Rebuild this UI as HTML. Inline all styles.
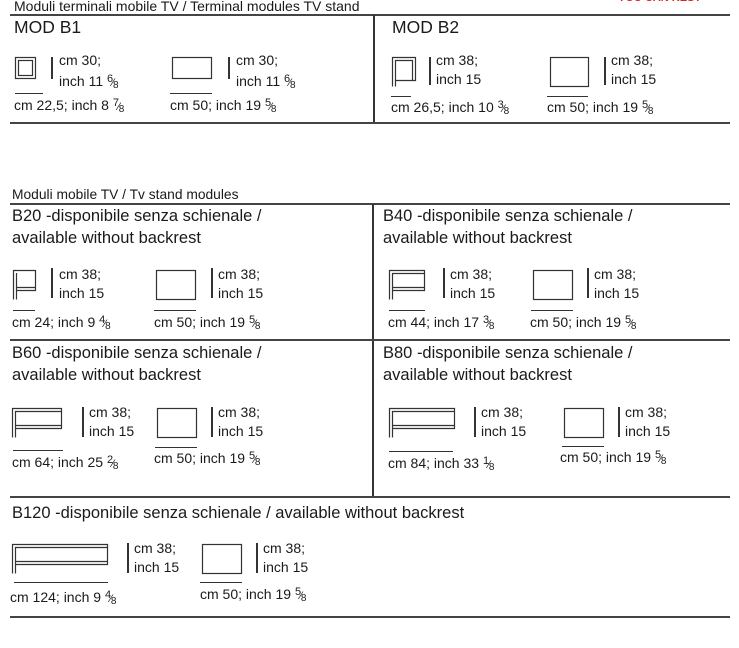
<!DOCTYPE html>
<html><head><meta charset="utf-8"><style>
body{margin:0;width:739px;height:648px;background:#fff;position:relative;overflow:hidden;font-family:"Liberation Sans",sans-serif;color:#1a1a1a}
.a{position:absolute;white-space:nowrap}
.h{position:absolute;height:2px;background:#444}
.v{position:absolute;width:1.5px;background:#333}
.t{position:absolute;font-size:14px;line-height:19px;white-space:nowrap}
.hd{position:absolute;font-size:16.5px;line-height:22px;white-space:nowrap}
.f{font-size:11px;letter-spacing:-1px}
.f sup{font-size:11px;vertical-align:4px}
.f sub{font-size:10px;vertical-align:-2px}
.ol{position:absolute;height:1px;background:#333}
svg{position:absolute;overflow:visible}
svg rect,svg line,svg path{fill:none;stroke:#333;stroke-width:1.2}
</style></head><body>
<div class="a" style="left:618px;top:-8px;color:#d22;font-size:11px;font-weight:bold">YOU CAN REST</div>
<div class="a" style="left:14px;top:-2px;font-size:14px">Moduli terminali mobile TV / Terminal modules TV stand</div>
<div class="h" style="left:10px;top:14px;width:720px"></div>
<div class="v" style="left:373px;top:15px;height:108px"></div>
<div class="h" style="left:10px;top:122px;width:720px"></div>

<div class="hd" style="left:14px;top:16px;font-size:17.5px">MOD B1</div>
<svg style="left:15px;top:57px" width="21" height="22"><rect x="0.5" y="0.5" width="20" height="21"/><rect x="3.5" y="3.5" width="14" height="15"/></svg>
<div class="v" style="left:51px;top:57px;height:22px"></div>
<div class="t" style="left:59px;top:51px">cm 30;<br>inch 11 <span class="f"><sup>6</sup>⁄<sub>8</sub></span></div>
<div class="ol" style="left:15px;top:93px;width:28px"></div>
<div class="t" style="left:14px;top:94px">cm 22,5; inch 8 <span class="f"><sup>7</sup>⁄<sub>8</sub></span></div>
<svg style="left:172px;top:57px" width="40" height="22"><rect x="0.5" y="0.5" width="39" height="21"/></svg>
<div class="v" style="left:228px;top:57px;height:22px"></div>
<div class="t" style="left:236px;top:51px">cm 30;<br>inch 11 <span class="f"><sup>6</sup>⁄<sub>8</sub></span></div>
<div class="ol" style="left:170px;top:93px;width:42px"></div>
<div class="t" style="left:170px;top:94px">cm 50; inch 19 <span class="f"><sup>5</sup>⁄<sub>8</sub></span></div>

<div class="hd" style="left:392px;top:16px;font-size:17.5px">MOD B2</div>
<svg style="left:392px;top:57px" width="24" height="30"><path d="M0.5 29.5V0.5H23.5V23.5H3.5V29.5"/><path d="M3.5 23.5V3.5H20.5V23.5"/></svg>
<div class="v" style="left:429px;top:57px;height:28px"></div>
<div class="t" style="left:436px;top:51px">cm 38;<br>inch 15</div>
<div class="ol" style="left:391px;top:96px;width:20px"></div>
<div class="t" style="left:391px;top:96px">cm 26,5; inch 10 <span class="f"><sup>3</sup>⁄<sub>8</sub></span></div>
<svg style="left:550px;top:57px" width="39" height="30"><rect x="0.5" y="0.5" width="38" height="29"/></svg>
<div class="v" style="left:604px;top:57px;height:28px"></div>
<div class="t" style="left:611px;top:51px">cm 38;<br>inch 15</div>
<div class="ol" style="left:547px;top:96px;width:41px"></div>
<div class="t" style="left:547px;top:96px">cm 50; inch 19 <span class="f"><sup>5</sup>⁄<sub>8</sub></span></div>

<div class="a" style="left:12px;top:187px;font-size:13.8px">Moduli mobile TV / Tv stand modules</div>
<div class="h" style="left:10px;top:203px;width:720px"></div>
<div class="v" style="left:372px;top:204px;height:293px"></div>
<div class="h" style="left:10px;top:339px;width:720px"></div>
<div class="h" style="left:10px;top:496px;width:720px"></div>
<div class="h" style="left:10px;top:616px;width:720px"></div>

<div class="hd" style="left:12px;top:205px">B20 -disponibile senza schienale /<br>available without backrest</div>
<svg style="left:13px;top:270px" width="23" height="30"><path d="M0.5 29.5V0.5H22.5V20.5H3.5V29.5"/><line x1="3.5" y1="3" x2="3.5" y2="20"/><line x1="3" y1="17.5" x2="22" y2="17.5"/></svg>
<div class="v" style="left:51px;top:268px;height:30px"></div>
<div class="t" style="left:59px;top:265px">cm 38;<br>inch 15</div>
<div class="ol" style="left:13px;top:310px;width:22px"></div>
<div class="t" style="left:12px;top:311px">cm 24; inch 9 <span class="f"><sup>4</sup>⁄<sub>8</sub></span></div>
<svg style="left:156px;top:270px" width="40" height="30"><rect x="0.5" y="0.5" width="39" height="29"/></svg>
<div class="v" style="left:211px;top:268px;height:30px"></div>
<div class="t" style="left:218px;top:265px">cm 38;<br>inch 15</div>
<div class="ol" style="left:154px;top:310px;width:42px"></div>
<div class="t" style="left:154px;top:311px">cm 50; inch 19 <span class="f"><sup>5</sup>⁄<sub>8</sub></span></div>

<div class="hd" style="left:383px;top:205px">B40 -disponibile senza schienale /<br>available without backrest</div>
<svg style="left:389px;top:270px" width="36" height="30"><path d="M0.5 29.5V0.5H35.5V20.5H3.5V29.5"/><line x1="3.5" y1="3" x2="3.5" y2="20"/><line x1="3" y1="17.5" x2="35" y2="17.5"/><line x1="3" y1="3.5" x2="35" y2="3.5"/></svg>
<div class="v" style="left:443px;top:268px;height:30px"></div>
<div class="t" style="left:450px;top:265px">cm 38;<br>inch 15</div>
<div class="ol" style="left:389px;top:310px;width:36px"></div>
<div class="t" style="left:388px;top:311px">cm 44; inch 17 <span class="f"><sup>3</sup>⁄<sub>8</sub></span></div>
<svg style="left:533px;top:270px" width="40" height="30"><rect x="0.5" y="0.5" width="39" height="29"/></svg>
<div class="v" style="left:587px;top:268px;height:30px"></div>
<div class="t" style="left:594px;top:265px">cm 38;<br>inch 15</div>
<div class="ol" style="left:531px;top:310px;width:42px"></div>
<div class="t" style="left:530px;top:311px">cm 50; inch 19 <span class="f"><sup>5</sup>⁄<sub>8</sub></span></div>

<div class="hd" style="left:12px;top:342px">B60 -disponibile senza schienale /<br>available without backrest</div>
<svg style="left:12px;top:408px" width="50" height="30"><path d="M0.5 29.5V0.5H49.5V20.5H3.5V29.5"/><line x1="3.5" y1="3" x2="3.5" y2="20"/><line x1="3" y1="17.5" x2="49" y2="17.5"/><line x1="3" y1="3.5" x2="49" y2="3.5"/></svg>
<div class="v" style="left:82px;top:407px;height:30px"></div>
<div class="t" style="left:89px;top:403px">cm 38;<br>inch 15</div>
<div class="ol" style="left:13px;top:450px;width:50px"></div>
<div class="t" style="left:12px;top:451px">cm 64; inch 25 <span class="f"><sup>2</sup>⁄<sub>8</sub></span></div>
<svg style="left:157px;top:408px" width="40" height="30"><rect x="0.5" y="0.5" width="39" height="29"/></svg>
<div class="v" style="left:211px;top:407px;height:30px"></div>
<div class="t" style="left:218px;top:403px">cm 38;<br>inch 15</div>
<div class="ol" style="left:155px;top:447px;width:42px"></div>
<div class="t" style="left:154px;top:447px">cm 50; inch 19 <span class="f"><sup>5</sup>⁄<sub>8</sub></span></div>

<div class="hd" style="left:383px;top:342px">B80 -disponibile senza schienale /<br>available without backrest</div>
<svg style="left:389px;top:408px" width="66" height="30"><path d="M0.5 29.5V0.5H65.5V20.5H3.5V29.5"/><line x1="3.5" y1="3" x2="3.5" y2="20"/><line x1="3" y1="17.5" x2="65" y2="17.5"/><line x1="3" y1="3.5" x2="65" y2="3.5"/></svg>
<div class="v" style="left:474px;top:407px;height:30px"></div>
<div class="t" style="left:481px;top:403px">cm 38;<br>inch 15</div>
<div class="ol" style="left:389px;top:451px;width:64px"></div>
<div class="t" style="left:388px;top:452px">cm 84; inch 33 <span class="f"><sup>1</sup>⁄<sub>8</sub></span></div>
<svg style="left:564px;top:408px" width="40" height="30"><rect x="0.5" y="0.5" width="39" height="29"/></svg>
<div class="v" style="left:618px;top:407px;height:30px"></div>
<div class="t" style="left:625px;top:403px">cm 38;<br>inch 15</div>
<div class="ol" style="left:562px;top:446px;width:42px"></div>
<div class="t" style="left:560px;top:446px">cm 50; inch 19 <span class="f"><sup>5</sup>⁄<sub>8</sub></span></div>

<div class="hd" style="left:12px;top:502px">B120 -disponibile senza schienale / available without backrest</div>
<svg style="left:12px;top:544px" width="96" height="30"><path d="M0.5 29.5V0.5H95.5V20.5H3.5V29.5"/><line x1="3.5" y1="3" x2="3.5" y2="20"/><line x1="3" y1="17.5" x2="95" y2="17.5"/><line x1="3" y1="3.5" x2="95" y2="3.5"/></svg>
<div class="v" style="left:127px;top:543px;height:30px"></div>
<div class="t" style="left:134px;top:539px">cm 38;<br>inch 15</div>
<div class="ol" style="left:14px;top:582px;width:94px"></div>
<div class="t" style="left:10px;top:586px">cm 124; inch 9 <span class="f"><sup>4</sup>⁄<sub>8</sub></span></div>
<svg style="left:202px;top:544px" width="40" height="30"><rect x="0.5" y="0.5" width="39" height="29"/></svg>
<div class="v" style="left:256px;top:543px;height:30px"></div>
<div class="t" style="left:263px;top:539px">cm 38;<br>inch 15</div>
<div class="ol" style="left:200px;top:582px;width:42px"></div>
<div class="t" style="left:200px;top:583px">cm 50; inch 19 <span class="f"><sup>5</sup>⁄<sub>8</sub></span></div>
</body></html>
